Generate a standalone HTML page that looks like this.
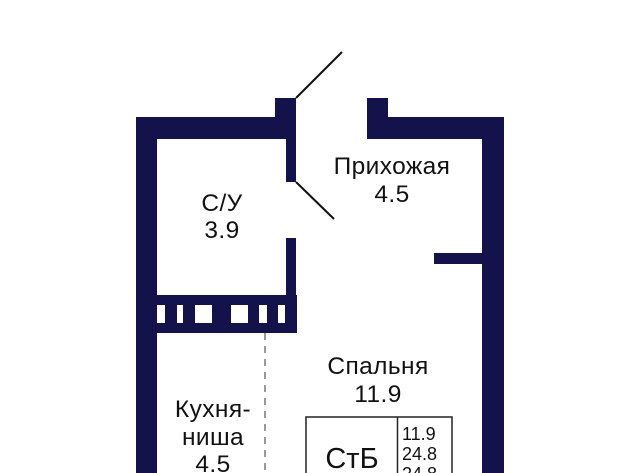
<!DOCTYPE html>
<html><head><meta charset="utf-8"><style>
html,body{margin:0;padding:0;background:#fff;}
svg{display:block;}
text{font-family:"Liberation Sans",sans-serif;fill:#111;}
</style></head><body>
<svg width="640" height="473" viewBox="0 0 640 473" xmlns="http://www.w3.org/2000/svg">
<g fill="#14124a">
<rect x="136" y="117" width="160" height="22"/>
<rect x="136" y="117" width="21" height="356"/>
<rect x="275" y="98" width="21" height="41"/>
<rect x="286" y="98" width="10" height="84"/>
<rect x="286" y="238" width="10" height="95"/>
<rect x="136" y="295" width="161" height="38"/>
<rect x="367" y="98" width="21" height="41"/>
<rect x="367" y="117" width="137" height="22"/>
<rect x="482" y="117" width="22" height="356"/>
<rect x="434" y="253" width="48" height="11"/>
</g>
<g fill="#fff">
<rect x="157" y="305" width="8" height="18"/>
<rect x="177" y="305" width="6" height="18"/>
<rect x="195" y="305" width="17" height="18"/>
<rect x="231" y="305" width="17" height="18"/>
<rect x="259" y="305" width="8" height="18"/>
<rect x="278" y="305" width="7" height="18"/>
</g>
<line x1="296" y1="98" x2="342" y2="52" stroke="#111" stroke-width="2"/>
<line x1="296" y1="182" x2="334" y2="219" stroke="#111" stroke-width="2"/>
<line x1="265" y1="333" x2="265" y2="473" stroke="#333" stroke-width="1" stroke-dasharray="7,6"/>
<rect x="306" y="417" width="146" height="60" fill="none" stroke="#222" stroke-width="1.5"/>
<line x1="397.5" y1="417" x2="397.5" y2="473" stroke="#222" stroke-width="1.5"/>
<g font-size="24.5" text-anchor="middle" letter-spacing="0.4">
<text x="392" y="174">Прихожая</text>
<text x="392" y="202">4.5</text>
<text x="222" y="211">С/У</text>
<text x="222" y="238">3.9</text>
<text x="378" y="374">Спальня</text>
<text x="378" y="402">11.9</text>
<text x="213" y="417">Кухня-</text>
<text x="213" y="445">ниша</text>
<text x="213" y="472">4.5</text>
</g>
<text x="352" y="468" font-size="29" text-anchor="middle">СтБ</text>
<g font-size="18">
<text x="402" y="440">11.9</text>
<text x="402" y="460">24.8</text>
<text x="402" y="480">24.8</text>
</g>
</svg>
</body></html>
